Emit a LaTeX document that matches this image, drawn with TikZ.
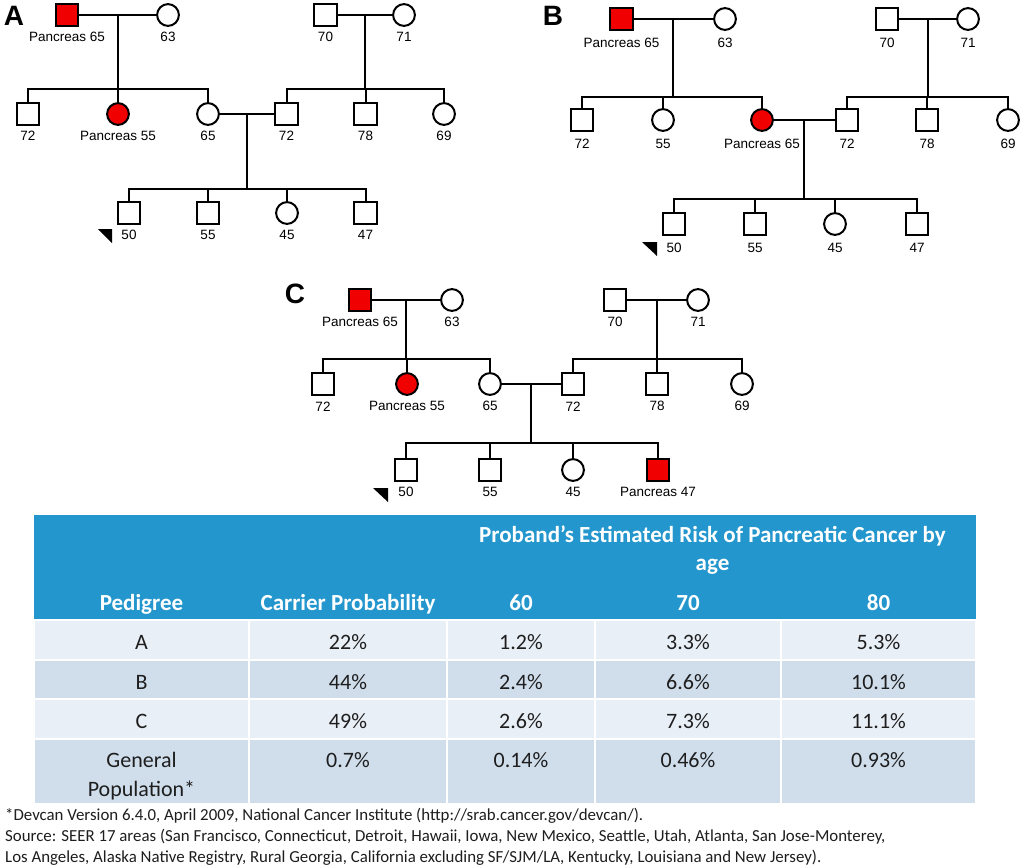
\documentclass[tikz,border=0pt]{standalone}
\usepackage{fontspec}
\setmainfont{Carlito}
\newfontfamily\pedfont{Liberation Sans}
\usetikzlibrary{calc}
\definecolor{pedred}{RGB}{240,0,0}
\definecolor{hdrblue}{RGB}{35,150,205}
\definecolor{rowlight}{RGB}{233,239,247}
\definecolor{rowdark}{RGB}{208,222,236}
\definecolor{txt}{RGB}{30,30,30}
\newcommand{\pers}[6]{\node[#2] (#1) at (#3,#4) {};\node[lbl] (#1-t) at ([yshift=-#6pt]#1.center) {#5};}
\newcommand{\pedlines}[3]{%
  \draw[ped] (#1-f1) -- (#1-m1);
  \coordinate (#1-c1) at ($(#1-f1.east)!0.5!(#1-m1.west)$);
  \coordinate (#1-j1) at ($(#1-c1)+(0,#2)$);
  \draw[ped] (#1-c1) -- (#1-j1);
  \draw[ped] (#1-s1.north) |- (#1-j1) -| (#1-s3.north);
  \draw[ped] (#1-s2.north) -- (#1-s2.north |- #1-j1);
  \draw[ped] (#1-f2) -- (#1-m2);
  \coordinate (#1-c2) at ($(#1-f2.east)!0.5!(#1-m2.west)$);
  \coordinate (#1-j2) at ($(#1-c2)+(0,#2)$);
  \draw[ped] (#1-c2) -- (#1-j2);
  \draw[ped] (#1-s4.north) |- (#1-j2) -| (#1-s6.north);
  \draw[ped] (#1-s5.north) -- (#1-s5.north |- #1-j2);
  \draw[ped] (#1-s3) -- (#1-s4);
  \coordinate (#1-c3) at ($(#1-s3.east)!0.5!(#1-s4.west)$);
  \coordinate (#1-j3) at ($(#1-c3)+(0,#3)$);
  \draw[ped] (#1-c3) -- (#1-j3);
  \draw[ped] (#1-g1.north) |- (#1-j3) -| (#1-g4.north);
  \draw[ped] (#1-g2.north) -- (#1-g2.north |- #1-j3);
  \draw[ped] (#1-g3.north) -- (#1-g3.north |- #1-j3);
}
\begin{document}
\begin{tikzpicture}[x=1pt,y=-1pt,
  ped/.style={line width=2pt},
  sq/.style={draw, rectangle, line width=2pt, minimum size=22.5pt, inner sep=0pt, fill=white},
  ci/.style={draw, circle, line width=2pt, minimum size=21.8pt, inner sep=0pt, fill=white},
  aff/.style={fill=pedred},
  lbl/.style={font=\pedfont\fontsize{13.5}{15}\selectfont, inner sep=0pt},
  panel/.style={font=\pedfont\bfseries\fontsize{28}{30}\selectfont, inner sep=0pt},
  proband/.style={fill=black},
  cellL/.style={fill=rowlight, draw=white, line width=2pt},
  cellD/.style={fill=rowdark, draw=white, line width=2pt},
  hdr/.style={font=\bfseries\fontsize{23}{28}\selectfont, text=white, anchor=base, inner sep=0pt},
  val/.style={font=\fontsize{22}{27}\selectfont, text=txt, anchor=base, inner sep=0pt},
  note/.style={font=\fontsize{16.85}{19}\selectfont, text=txt, anchor=base west, inner sep=0pt}
]
\useasboundingbox (0,0) rectangle (1024,867);
\fill[white] (0,0) rectangle (1024,867);

% ---------------- Panel A
\node[panel] (A-lab) at (14,16) {A};
\pers{A-f1}{sq,aff}{67}{15}{Pancreas 65}{21.7}
\pers{A-m1}{ci}{168}{15}{63}{21.7}
\pers{A-f2}{sq}{325.5}{15}{70}{21.7}
\pers{A-m2}{ci}{404}{15}{71}{21.7}
\pers{A-s1}{sq}{28}{114}{72}{21.7}
\pers{A-s2}{ci,aff}{118}{114}{Pancreas 55}{21.7}
\pers{A-s3}{ci}{208}{114}{65}{21.7}
\pers{A-s4}{sq}{286.5}{114}{72}{21.7}
\pers{A-s5}{sq}{365.5}{114}{78}{21.7}
\pers{A-s6}{ci}{444}{114}{69}{21.7}
\pers{A-g1}{sq}{129}{213}{50}{21.7}
\pers{A-g2}{sq}{208}{213}{55}{21.7}
\pers{A-g3}{ci}{287}{213}{45}{21.7}
\pers{A-g4}{sq}{365.5}{213}{47}{21.7}
\pedlines{A}{74}{75}
\fill[proband] (98,229) -- (112,229) -- (112,243) -- cycle;

% ---------------- Panel B
\node[panel] (B-lab) at (553,16) {B};
\pers{B-f1}{sq,aff}{621.5}{19}{Pancreas 65}{23.5}
\pers{B-m1}{ci}{725}{19}{63}{23.5}
\pers{B-f2}{sq}{887}{19}{70}{23.5}
\pers{B-m2}{ci}{968}{19}{71}{23.5}
\pers{B-s1}{sq}{582}{120}{72}{23.5}
\pers{B-s2}{ci}{663}{120}{55}{23.5}
\pers{B-s3}{ci,aff}{762}{120}{Pancreas 65}{23.5}
\pers{B-s4}{sq}{847}{120}{72}{23.5}
\pers{B-s5}{sq}{927}{120}{78}{23.5}
\pers{B-s6}{ci}{1008}{120}{69}{23.5}
\pers{B-g1}{sq}{674}{224}{50}{23.5}
\pers{B-g2}{sq}{755}{224}{55}{23.5}
\pers{B-g3}{ci}{835}{224}{45}{23.5}
\pers{B-g4}{sq}{917}{224}{47}{23.5}
\pedlines{B}{78}{79}
\fill[proband] (642,242) -- (657,242) -- (657,256) -- cycle;

% ---------------- Panel C
\node[panel] (C-lab) at (295,294) {C};
\pers{C-f1}{sq,aff}{360}{300}{Pancreas 65}{22.3}
\pers{C-m1}{ci}{452}{300}{63}{22.3}
\pers{C-f2}{sq}{615}{300}{70}{22.3}
\pers{C-m2}{ci}{698}{300}{71}{22.3}
\pers{C-s1}{sq}{323}{384}{72}{22.3}
\pers{C-s2}{ci,aff}{407}{384}{Pancreas 55}{22.3}
\pers{C-s3}{ci}{490}{384}{65}{22.3}
\pers{C-s4}{sq}{573}{384}{72}{22.3}
\pers{C-s5}{sq}{657}{384}{78}{22.3}
\pers{C-s6}{ci}{742}{384}{69}{22.3}
\pers{C-g1}{sq}{406}{470}{50}{22.3}
\pers{C-g2}{sq}{490}{470}{55}{22.3}
\pers{C-g3}{ci}{573}{470}{45}{22.3}
\pers{C-g4}{sq,aff}{658}{470}{Pancreas 47}{22.3}
\pedlines{C}{59}{59}
\fill[proband] (373,488) -- (388,488) -- (388,502) -- cycle;

% ---------------- Table
\fill[hdrblue] (34,515) rectangle (976,620);
\foreach \xa/\xb in {34/249,249/447,447/595,595/781,781/976}{
  \path[cellL] (\xa,620) rectangle (\xb,660);
  \path[cellD] (\xa,660) rectangle (\xb,699);
  \path[cellL] (\xa,699) rectangle (\xb,739);
  \path[cellD] (\xa,739) rectangle (\xb,804);
}
\node[hdr] (h-t1) at (712.5,542) {Proband’s Estimated Risk of Pancreatic Cancer by};
\node[hdr] (h-t2) at (712.5,570) {age};
\node[hdr] (h-ped) at (141.5,610) {Pedigree};
\node[hdr] (h-car) at (348,610) {Carrier Probability};
\node[hdr] (h-60) at (521,610) {60};
\node[hdr] (h-70) at (688,610) {70};
\node[hdr] (h-80) at (878.5,610) {80};

\node[val] (rA-1) at (141.5,649) {A};
\node[val] (rA-2) at (348,649) {22\%};
\node[val] (rA-3) at (521,649) {1.2\%};
\node[val] (rA-4) at (688,649) {3.3\%};
\node[val] (rA-5) at (878.5,649) {5.3\%};

\node[val] (rB-1) at (141.5,689) {B};
\node[val] (rB-2) at (348,689) {44\%};
\node[val] (rB-3) at (521,689) {2.4\%};
\node[val] (rB-4) at (688,689) {6.6\%};
\node[val] (rB-5) at (878.5,689) {10.1\%};

\node[val] (rC-1) at (141.5,728) {C};
\node[val] (rC-2) at (348,728) {49\%};
\node[val] (rC-3) at (521,728) {2.6\%};
\node[val] (rC-4) at (688,728) {7.3\%};
\node[val] (rC-5) at (878.5,728) {11.1\%};

\node[val] (rG-1a) at (141.5,767) {General};
\node[val] (rG-1b) at (141.5,796) {Population*};
\node[val] (rG-2) at (348,767) {0.7\%};
\node[val] (rG-3) at (521,767) {0.14\%};
\node[val] (rG-4) at (688,767) {0.46\%};
\node[val] (rG-5) at (878.5,767) {0.93\%};

% ---------------- Footnote
\node[note] (n1) at (5,820) {*Devcan Version 6.4.0, April 2009, National Cancer Institute (http://srab.cancer.gov/devcan/).};
\node[note] (n2) at (5,841.5) {Source: SEER 17 areas (San Francisco, Connecticut, Detroit, Hawaii, Iowa, New Mexico, Seattle, Utah, Atlanta, San Jose-Monterey,};
\node[note] (n3) at (5,862.5) {Los Angeles, Alaska Native Registry, Rural Georgia, California excluding SF/SJM/LA, Kentucky, Louisiana and New Jersey).};
\end{tikzpicture}
\end{document}
